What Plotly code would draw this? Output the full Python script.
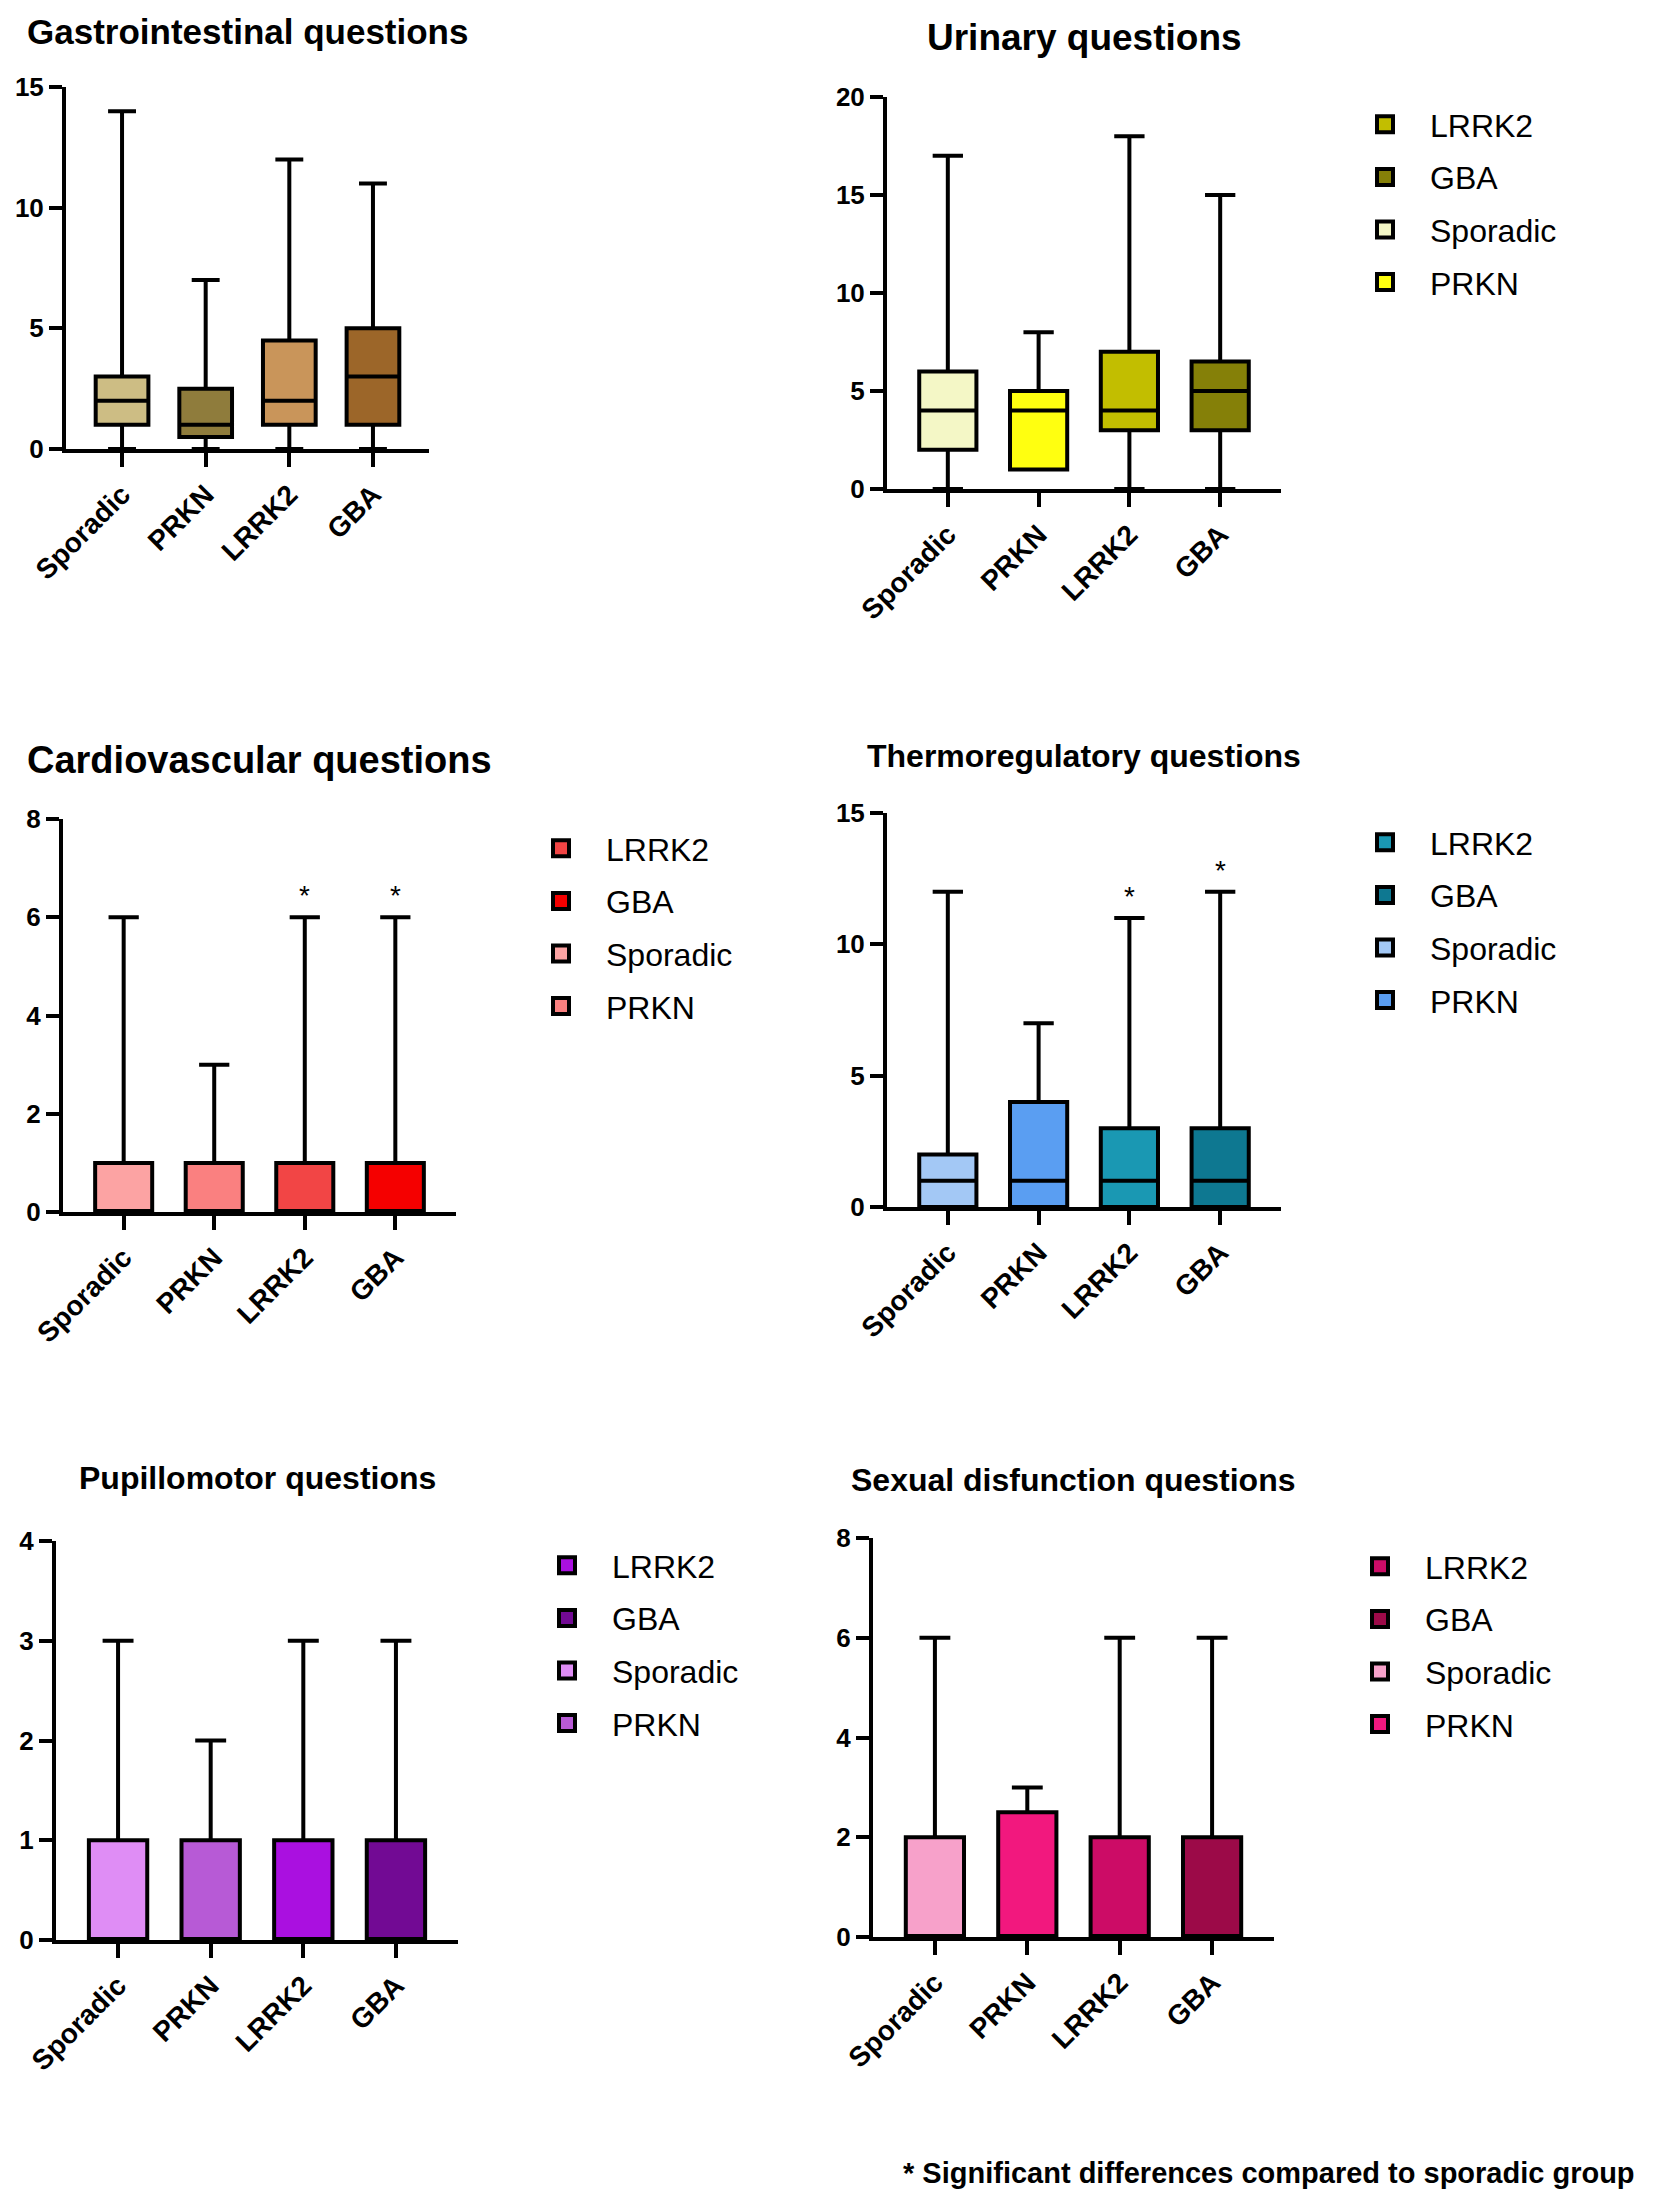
"""
Autonomic symptom scores by group - six panels of box plots
"""

import plotly.graph_objects as go

# ---- data -------------------------------------------------------------
groups = ["Sporadic", "PRKN", "LRRK2", "GBA"]
legend_order = ["LRRK2", "GBA", "Sporadic", "PRKN"]

gi_min = [0, 0, 0, 0]
gi_q1 = [1, 0.5, 1, 1]
gi_med = [2, 1, 2, 3]
gi_q3 = [3, 2.5, 4.5, 5]
gi_max = [14, 7, 12, 11]

ur_min = [0, 1, 0, 0]
ur_q1 = [2, 1, 3, 3]
ur_med = [4, 4, 4, 5]
ur_q3 = [6, 5, 7, 6.5]
ur_max = [17, 8, 18, 15]

cv_min = [0, 0, 0, 0]
cv_q1 = [0, 0, 0, 0]
cv_med = [0, 0, 0, 0]
cv_q3 = [1, 1, 1, 1]
cv_max = [6, 3, 6, 6]
cv_sig = ["LRRK2", "GBA"]

th_min = [0, 0, 0, 0]
th_q1 = [0, 0, 0, 0]
th_med = [1, 1, 1, 1]
th_q3 = [2, 4, 3, 3]
th_max = [12, 7, 11, 12]
th_sig = ["LRRK2", "GBA"]

pu_min = [0, 0, 0, 0]
pu_q1 = [0, 0, 0, 0]
pu_med = [0, 0, 0, 0]
pu_q3 = [1, 1, 1, 1]
pu_max = [3, 2, 3, 3]

sx_min = [0, 0, 0, 0]
sx_q1 = [0, 0, 0, 0]
sx_med = [0, 0, 0, 0]
sx_q3 = [2, 2.5, 2, 2]
sx_max = [6, 3, 6, 6]

footnote = "* Significant differences compared to sporadic group"

# ---- style ------------------------------------------------------------
W, H = 1654, 2206
# the page body has a small default margin, so pull everything back a bit
OFF_X, OFF_Y = 9, 11
FONT = "Liberation Sans, Arial, Helvetica, sans-serif"
LW = 4

panels = [
    dict(title="Gastrointestinal questions", tsize=35, stats=(gi_min, gi_q1, gi_med, gi_q3, gi_max),
         colors=["#CDBD84", "#8F7C3C", "#C9955A", "#9C6629"], ymax=15, dtick=5,
         box=(67, 430, 90, 452), title_y=35, legend=None, sig=[]),
    dict(title="Urinary questions", tsize=37, stats=(ur_min, ur_q1, ur_med, ur_q3, ur_max),
         colors=["#F4F7C6", "#FFFF10", "#C2BE00", "#858008"], ymax=20, dtick=5,
         box=(888, 1282, 100, 492), title_y=40, legend=(1341, 100), sig=[]),
    dict(title="Cardiovascular questions", tsize=38, stats=(cv_min, cv_q1, cv_med, cv_q3, cv_max),
         colors=["#FCA3A3", "#FA8080", "#F24545", "#F50000"], ymax=8, dtick=2,
         box=(64, 457, 822, 1215), title_y=763, legend=(517, 824), sig=cv_sig),
    dict(title="Thermoregulatory questions", tsize=32, stats=(th_min, th_q1, th_med, th_q3, th_max),
         colors=["#A3C8F5", "#5A9EF2", "#1A98B3", "#0E7891"], ymax=15, dtick=5,
         box=(888, 1282, 816, 1210), title_y=759, legend=(1341, 818), sig=th_sig),
    dict(title="Pupillomotor questions", tsize=32, stats=(pu_min, pu_q1, pu_med, pu_q3, pu_max),
         colors=["#DF8DF5", "#B75AD6", "#AA10E0", "#720A94"], ymax=4, dtick=1,
         box=(57, 459, 1544, 1943), title_y=1481, legend=(523, 1541), sig=[]),
    dict(title="Sexual disfunction questions", tsize=32, stats=(sx_min, sx_q1, sx_med, sx_q3, sx_max),
         colors=["#F7A1CA", "#F2187E", "#CC0C66", "#9C0A48"], ymax=8, dtick=2,
         box=(874, 1275, 1541, 1940), title_y=1483, legend=(1336, 1542), sig=[]),
]


def px_x(v):
    return (v - OFF_X) / W


def px_y(v):
    return 1 - (v - OFF_Y) / H


fig = go.Figure()
layout = dict(
    width=W,
    height=H,
    margin=dict(l=0, r=0, t=0, b=0, autoexpand=False),
    paper_bgcolor="white",
    plot_bgcolor="white",
    font=dict(family=FONT, color="black"),
    showlegend=True,
    annotations=[],
)

for i, p in enumerate(panels, start=1):
    sfx = "" if i == 1 else str(i)
    xa, ya = "x" + sfx, "y" + sfx
    leg = "legend" + sfx
    lo, q1, med, q3, hi = p["stats"]
    color_of = dict(zip(groups, p["colors"]))

    for k, g in enumerate(groups):
        fig.add_trace(go.Box(
            x=[g], q1=[q1[k]], median=[med[k]], q3=[q3[k]],
            lowerfence=[lo[k]], upperfence=[hi[k]],
            name=g, boxpoints=False, width=0.63, whiskerwidth=0.53,
            fillcolor=p["colors"][k], line=dict(color="black", width=LW),
            xaxis=xa, yaxis=ya, hoverinfo="skip", showlegend=False,
        ))

    # legend swatches (legend only, no data drawn)
    if p["legend"] is not None:
        for r, g in enumerate(legend_order):
            fig.add_trace(go.Scatter(
                x=[None], y=[None], mode="markers", name=g,
                marker=dict(symbol="square", size=16, color=color_of[g],
                            line=dict(color="black", width=4)),
                xaxis=xa, yaxis=ya, legend=leg, legendgroup=f"{i}-{g}",
                legendrank=r + 1, hoverinfo="skip",
            ))

    for g in p["sig"]:
        layout["annotations"].append(dict(
            text="*", x=g, y=hi[groups.index(g)], xref=xa, yref=ya,
            yanchor="bottom", yshift=4, showarrow=False,
            font=dict(size=28, family=FONT, color="black"),
        ))

    x0, x1, y0, y1 = p["box"]
    layout["xaxis" + sfx] = dict(
        domain=[px_x(x0), px_x(x1)], anchor=ya, type="category",
        categoryorder="array", categoryarray=groups, range=[-0.67, 3.67],
        showline=True, linecolor="black", linewidth=LW, showgrid=False, zeroline=False,
        ticks="outside", ticklen=14, tickwidth=LW, tickcolor="black", tickangle=-45,
        tickfont=dict(size=28, family=FONT, color="black", weight="bold"),
        automargin=False, fixedrange=True,
    )
    layout["yaxis" + sfx] = dict(
        domain=[px_y(y1), px_y(y0)], anchor=xa, range=[0, p["ymax"]], dtick=p["dtick"],
        showline=True, linecolor="black", linewidth=LW, showgrid=False, zeroline=False,
        ticks="outside", ticklen=13, tickwidth=LW, tickcolor="black",
        tickfont=dict(size=26, family=FONT, color="black", weight="bold"),
        automargin=False, fixedrange=True,
    )

    layout["annotations"].append(dict(
        text=p["title"], xref="paper", yref="paper",
        x=px_x((x0 + x1) / 2), y=px_y(p["title_y"]), xanchor="center", yanchor="middle",
        showarrow=False, font=dict(size=p["tsize"], family=FONT, color="black", weight="bold"),
    ))

    if p["legend"] is not None:
        lx, ly = p["legend"]
        layout[leg] = dict(
            x=px_x(lx), y=px_y(ly), xanchor="left", yanchor="top",
            xref="paper", yref="paper", bgcolor="rgba(0,0,0,0)",
            font=dict(size=32, family=FONT, color="black"),
            itemwidth=80, tracegroupgap=8, itemclick=False, itemdoubleclick=False,
        )

layout["annotations"].append(dict(
    text=footnote, xref="paper", yref="paper",
    x=px_x(1638), y=px_y(2176), xanchor="right", yanchor="middle", showarrow=False,
    font=dict(size=29, family=FONT, color="black", weight="bold"),
))

fig.update_layout(**layout)
fig.write_html("out.html")
